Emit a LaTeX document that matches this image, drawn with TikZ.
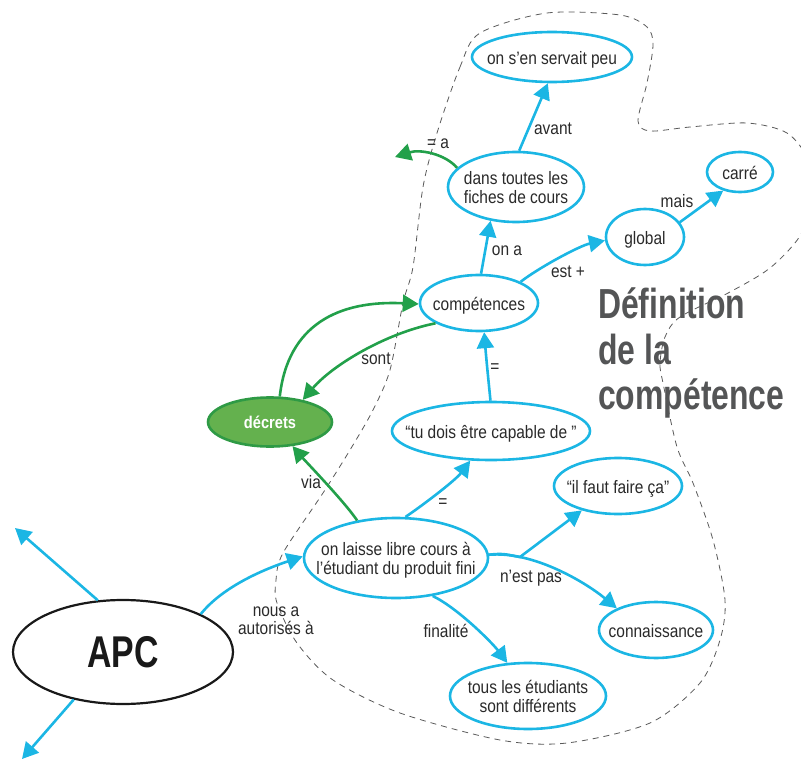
\documentclass[tikz,border=0pt]{standalone}
\usepackage{fontspec}
\setmainfont{Liberation Sans}[FakeStretch=0.86]
\newfontfamily\titlefont{Liberation Sans}[FakeStretch=0.76]
\usetikzlibrary{shapes.geometric,arrows.meta}
\definecolor{cblue}{HTML}{1BB6E4}
\definecolor{cgreen}{HTML}{22A04A}
\definecolor{gfill}{HTML}{64B14E}
\definecolor{gborder}{HTML}{2E9A45}
\definecolor{txt}{HTML}{2A2A2A}
\definecolor{ttl}{HTML}{545556}
\newcommand{\zb}[1]{\makebox[0pt]{\smash{\raisebox{-7.5pt}{\begin{tabular}{@{}c@{}}#1\end{tabular}}}}}
\begin{document}
\begin{tikzpicture}[x=1pt,y=-1pt,
  cnode/.style={ellipse,draw=cblue,line width=2.6pt,fill=white,inner sep=0pt,
    text=txt,font=\fontsize{18}{18}\selectfont},
  conn/.style={draw=cblue,line width=2.6pt,-{Triangle[length=16pt,width=17pt]}},
  gconn/.style={draw=cgreen,line width=2.6pt,-{Triangle[length=16pt,width=17pt]}},
  lbl/.style={text=txt,font=\fontsize{18}{18}\selectfont,inner sep=0pt,align=center},
  ttlstyle/.style={text=ttl,font=\titlefont\bfseries\fontsize{42}{45}\selectfont,inner sep=0pt,anchor=base west},
  boundary/.style={dash pattern=on 6pt off 5pt,line width=0.8pt,draw=black!65}
]
\useasboundingbox (0,0) rectangle (801,760);

% title
\node[ttlstyle] (t1) at (598,318) {Définition};
\node[ttlstyle] (t2) at (598,364) {de la};
\node[ttlstyle] (t3) at (598,409) {compétence};

% dashed boundary
\begin{scope}
\clip (0,0) rectangle (801,760);
\draw[boundary] plot[smooth cycle, tension=0.5] coordinates {
(437,133) (460,67) (480,33) (547,13) (620,15) (647,27) (653,45) (647,83)
(638,121) (650,131) (690,127) (747,123) (787,133) (808,160) (812,200)
(800,236) (770,268) (730,292) (680,317) (665,337) (660,363) (663,383)
(677,447) (693,483) (713,540) (725,600) (720,640) (700,683) (650,723)
(567,743) (500,740) (400,713) (333,680) (297,643) (277,603) (276,580)
(283,553) (323,493) (350,450) (373,410) (390,370) (403,303) (413,267) (423,187)};
\end{scope}

% nodes
\node[cnode,minimum width=160pt,minimum height=50pt] (A) at (552,57) {\zb{on s’en servait peu}};
\node[cnode,minimum width=136pt,minimum height=70pt] (B) at (516,187) {\zb{dans toutes les\\fiches de cours}};
\node[cnode,minimum width=66pt,minimum height=40pt] (carre) at (740,172) {\zb{carré}};
\node[cnode,minimum width=78pt,minimum height=56pt] (glob) at (645,237) {\zb{global}};
\node[cnode,minimum width=118pt,minimum height=56pt] (comp) at (479,303) {\zb{compétences}};
\node[ellipse,draw=gborder,fill=gfill,line width=2.6pt,inner sep=0pt,text=white,
  font=\bfseries\fontsize{17}{17}\selectfont,minimum width=124pt,minimum height=49pt] (decr) at (270,422) {décrets};
\node[cnode,minimum width=198pt,minimum height=58pt] (tudois) at (491,431) {\zb{“tu dois être capable de ”}};
\node[cnode,minimum width=128pt,minimum height=56pt] (ilfaut) at (618,486) {\zb{“il faut faire ça”}};
\node[cnode,minimum width=184pt,minimum height=80pt] (libre) at (396,558) {\zb{on laisse libre cours à\\l’étudiant du produit fini}};
\node[cnode,minimum width=114pt,minimum height=56pt] (conna) at (656,630) {\zb{connaissance}};
\node[cnode,minimum width=156pt,minimum height=66pt] (tous) at (528,696) {\zb{tous les étudiants\\sont différents}};
\node[ellipse,draw=black!90,line width=2.2pt,fill=white,inner sep=0pt,text=black!90,
  font=\titlefont\bfseries\fontsize{44.5}{46}\selectfont,minimum width=220pt,minimum height=104pt] (APC) at (123,652) {APC};

% free ends
\coordinate (gend) at (395,157);
\coordinate (apcup) at (15,528);
\coordinate (apcdown) at (22,759);
\coordinate (J) at (520,557);

% connectors
\draw[conn] (comp.86) -- (B.233);
\draw[conn] (B.85) -- (A.261);
\draw[gconn] (B.162) .. controls +(-12,-14) and +(25,-8) .. (gend);
\draw[conn] (comp.27) .. controls +(18,-14) and +(-25,5) .. (glob.185);
\draw[conn] (glob.23) -- (carre.228);
\draw[gconn] (decr.69) .. controls +(8,-72) and +(-80,-4) .. (comp.181);
\draw[gconn] (comp.205) .. controls +(-50,10) and +(30,-35) .. (decr.34);
\draw[conn] (tudois.91) .. controls +(-3,-30) and +(2,25) .. (comp.280);
\draw[conn] (libre.77) .. controls +(15,-10) and +(-15,20) .. (tudois.235);
\draw[gconn] (libre.136) .. controls +(-12,-18) and +(12,14) .. (decr.313);
\draw[conn] (APC.26) .. controls +(20,-25) and +(-45,15) .. (libre.179);
\draw[conn] (libre.2) .. controls +(15,-2) and +(-12,-2) .. (J) -- (ilfaut.214);
\draw[conn] (libre.2) .. controls +(45,-4) and +(-30,-25) .. (conna.151);
\draw[conn] (libre.314) .. controls +(25,12) and +(-15,-20) .. (tous.122);
\draw[conn] (APC.116) -- (apcup);
\draw[conn] (APC.224) -- (apcdown);

% labels
\node[lbl] (l1) at (507,251) {on a};
\node[lbl] (l2) at (553,129) {avant};
\node[lbl] (l3) at (438,144) {= a};
\node[lbl] (l4) at (568,272) {est +};
\node[lbl] (l5) at (677,201) {mais};
\node[lbl] (l6) at (376,359) {sont};
\node[lbl] (l7) at (495,368) {=};
\node[lbl] (l8) at (443,503) {=};
\node[lbl] (l9) at (311,482) {via};
\node[lbl] (l10) at (276,621) {nous a\\autorisés à};
\node[lbl] (l11) at (531,578) {n’est pas};
\node[lbl] (l12) at (446,631) {finalité};
\end{tikzpicture}
\end{document}
